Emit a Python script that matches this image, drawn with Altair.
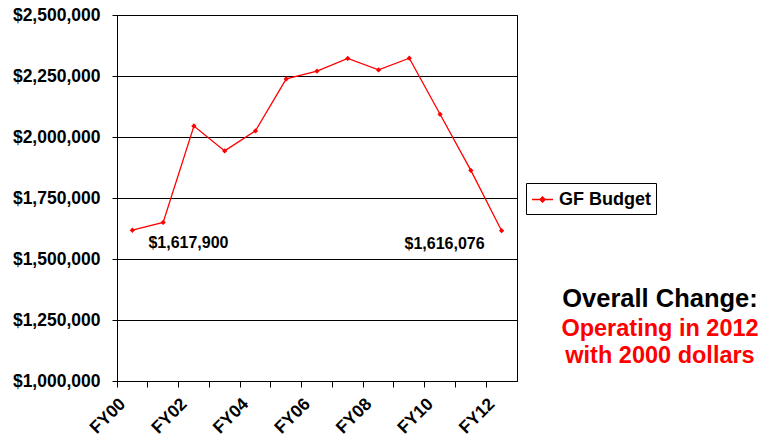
import altair as alt
import pandas as pd

years = ["FY00", "FY01", "FY02", "FY03", "FY04", "FY05", "FY06",
         "FY07", "FY08", "FY09", "FY10", "FY11", "FY12"]
budget = [1617900, 1650000, 2045000, 1943000, 2025000, 2238000, 2270000,
          2322000, 2275000, 2323000, 2093000, 1863000, 1616076]
series_name = "GF Budget"
y_ticks = [1000000, 1250000, 1500000, 1750000, 2000000, 2250000, 2500000]
start_label = "$1,617,900"
end_label = "$1,616,076"
note_lines = ["Overall Change:", "Operating in 2012", "with 2000 dollars"]

df = pd.DataFrame({"year": years, "budget": budget,
                   "series": [series_name] * len(years)})

FONT = "Liberation Sans"
W, H = 400, 366

x_enc = alt.X(
    "year:N", sort=years, bandPosition=0.5,
    scale=alt.Scale(type="band", paddingInner=0, paddingOuter=0),
    axis=alt.Axis(title=None, bandPosition=0, labelOffset=-9.5,
                  labelAngle=-45, labelAlign="right", labelBaseline="middle",
                  labelExpr="parseInt(substring(datum.value, 2, 4)) % 2 == 0 ? datum.value : ''",
                  tickSize=6, tickColor="black", domainColor="black",
                  labelFont=FONT, labelFontSize=17.5, labelFontWeight="bold",
                  labelColor="black", labelPadding=14, grid=False),
)
y_enc = alt.Y(
    "budget:Q",
    scale=alt.Scale(domain=[1000000, 2500000], nice=False, zero=False),
    axis=alt.Axis(title=None, values=y_ticks, format="$,.0f",
                  tickSize=5, tickColor="black", domainColor="black",
                  labelFont=FONT, labelFontSize=17.5, labelFontWeight="bold",
                  labelColor="black", labelPadding=12, labelOffset=0.5,
                  grid=True, gridColor="black", gridWidth=1),
)

line = alt.Chart(df).mark_line(
    strokeWidth=1.3,
    point=alt.OverlayMarkDef(shape="diamond", filled=True, size=28, color="red"),
).encode(
    x=x_enc, y=y_enc,
    color=alt.Color("series:N", scale=alt.Scale(range=["red"]),
                    legend=alt.Legend(
                        title=None, orient="none", legendX=409, legendY=168,
                        strokeColor="black", fillColor="white", padding=5,
                        labelFont=FONT, labelFontSize=18, labelFontWeight="bold",
                        labelColor="black", labelOffset=5,
                        symbolType="M-1,0L1,0M0,-0.25L0.25,0L0,0.25L-0.25,0Z",
                        symbolSize=441, symbolStrokeWidth=1.3,
                        symbolStrokeColor="red", symbolFillColor="red")),
)

lbl_start = alt.Chart(df[df["year"] == years[0]].assign(lbl=start_label)).mark_text(
    align="left", baseline="middle", dx=16, dy=13,
    font=FONT, fontSize=16, fontWeight="bold", color="black",
).encode(x=alt.X("year:N", sort=years, bandPosition=0.5), y="budget:Q", text="lbl:N")

lbl_end = alt.Chart(df[df["year"] == years[-1]].assign(lbl=end_label)).mark_text(
    align="right", baseline="middle", dx=-17, dy=13,
    font=FONT, fontSize=16, fontWeight="bold", color="black",
).encode(x=alt.X("year:N", sort=years, bandPosition=0.5), y="budget:Q", text="lbl:N")

def note(i, color, size, ypix):
    return alt.Chart(alt.Data(values=[{"t": note_lines[i]}])).mark_text(
        align="center", baseline="middle", font=FONT, fontSize=size,
        fontWeight="bold", color=color,
    ).encode(x=alt.value(543), y=alt.value(ypix), text="t:N")

chart = alt.layer(
    line, lbl_start, lbl_end,
    note(0, "black", 25.5, 284),
    note(1, "red", 23.5, 314),
    note(2, "red", 23.5, 341),
).properties(
    width=W, height=H,
    autosize=alt.AutoSizeParams(type="none"),
    padding={"left": 109, "top": 7, "right": 244, "bottom": 55},
).configure_view(stroke="black", strokeWidth=1)

chart.save("out.html", embed_options={"renderer": "svg", "actions": False})
